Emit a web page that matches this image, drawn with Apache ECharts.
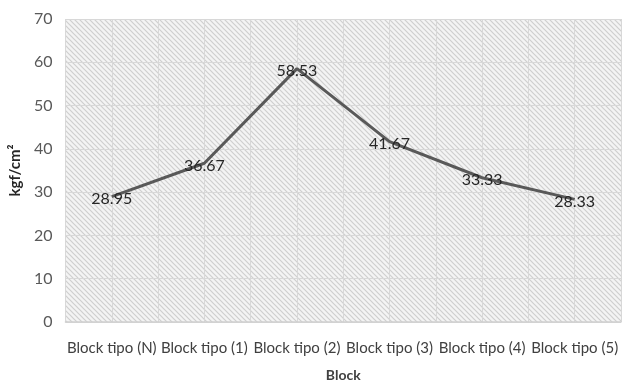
<!DOCTYPE html>
<html>
<head>
<meta charset="utf-8">
<script src="https://cdn.jsdelivr.net/npm/echarts@6/dist/echarts.min.js"></script>
<style>
  html, body { margin: 0; padding: 0; background: #fff; }
  #chart { width: 623px; height: 387px; }
</style>
</head>
<body>
<div id="chart"></div>
<script>
// Compressive strength per block type
const categories = ['Block tipo (N)', 'Block tipo (1)', 'Block tipo (2)', 'Block tipo (3)', 'Block tipo (4)', 'Block tipo (5)'];
const strength = [28.95, 36.67, 58.53, 41.67, 33.33, 28.33];
const yTicks = [0, 10, 20, 30, 40, 50, 60, 70];

// Diagonal hatch fill for the plot area
function hatchPattern() {
  const c = document.createElement('canvas');
  c.width = 5; c.height = 5;
  const g = c.getContext('2d');
  g.fillStyle = '#f4f4f4';
  g.fillRect(0, 0, 5, 5);
  g.strokeStyle = '#cfcfcf';
  g.lineWidth = 1.2;
  g.beginPath();
  g.moveTo(-1, -1); g.lineTo(6, 6);
  g.moveTo(-1, 4); g.lineTo(1, 6);
  g.moveTo(4, -1); g.lineTo(6, 1);
  g.stroke();
  return c;
}

// half-category grid lines drawn by a hidden companion axis
const halfSlots = [];
categories.forEach(function () { halfSlots.push('', ''); });

const font = 'Lato, "Open Sans", sans-serif';
const chart = echarts.init(document.getElementById('chart'), null, { renderer: 'canvas' });
chart.setOption({
  animation: false,
  grid: {
    left: 65, right: 2, top: 19, bottom: 62,
    show: true,
    borderWidth: 0,
    backgroundColor: { image: hatchPattern(), repeat: 'repeat' }
  },
  xAxis: [{
    type: 'category',
    data: categories,
    boundaryGap: true,
    name: 'Block',
    nameLocation: 'middle',
    nameGap: 46,
    nameTextStyle: { fontFamily: font, fontSize: 14, fontWeight: 'bold', color: '#404040' },
    axisLine: { show: true, lineStyle: { color: '#d0d0d0', width: 1.5 } },
    axisTick: { show: false },
    axisLabel: { interval: 0, margin: 19, fontFamily: font, fontSize: 15, color: '#404040' },
    splitLine: { show: false }
  }, {
    type: 'category',
    data: halfSlots,
    position: 'bottom',
    boundaryGap: true,
    axisLine: { show: false },
    axisTick: { show: false },
    axisLabel: { show: false },
    splitLine: { show: true, interval: 0, lineStyle: { color: '#d8d8d8', width: 1 } }
  }],
  yAxis: {
    type: 'value',
    min: yTicks[0],
    max: yTicks[yTicks.length - 1],
    interval: 10,
    name: 'kgf/cm²',
    nameLocation: 'middle',
    nameGap: 40,
    nameRotate: 90,
    nameTextStyle: { fontFamily: font, fontSize: 15, fontWeight: 'bold', color: '#262626' },
    axisLine: { show: false },
    axisTick: { show: false },
    axisLabel: { margin: 13, fontFamily: font, fontSize: 16, color: '#595959' },
    splitLine: { show: true, lineStyle: { color: '#d8d8d8', width: 1.2 } }
  },
  series: [{
    type: 'line',
    data: strength,
    xAxisIndex: 0,
    symbol: 'circle',
    symbolSize: 1,
    showSymbol: true,
    itemStyle: { color: 'rgba(0,0,0,0)' },
    lineStyle: { color: '#595959', width: 3 },
    label: {
      show: true,
      position: 'top',
      distance: -11,
      fontFamily: font,
      fontSize: 16,
      color: '#262626',
      formatter: function (p) { return p.value.toFixed(2); }
    }
  }]
});
</script>
</body>
</html>
